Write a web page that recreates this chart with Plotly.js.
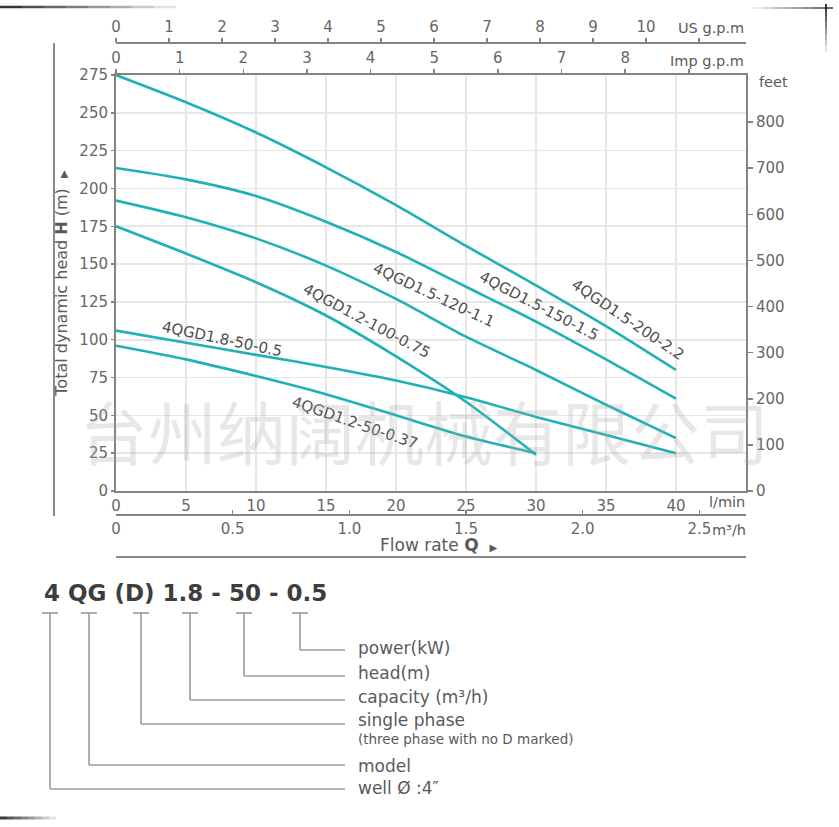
<!DOCTYPE html>
<html>
<head>
<meta charset="utf-8">
<script src="https://cdn.plot.ly/plotly-3.0.1.min.js"></script>
<style>
  html, body { margin: 0; padding: 0; background: #ffffff; }
  #chart { width: 839px; height: 827px; }
</style>
</head>
<body>
<div id="chart"></div>
<script>
// ---------------- data ----------------
const flowLong  = [0, 5, 10, 15, 20, 25, 30, 35, 40];   // l/min
const flowShort = [0, 5, 10, 15, 20, 25, 30];            // l/min

const head_15_200_22  = [275, 257, 237, 214, 189, 162, 136, 109, 80];
const head_15_150_15  = [213.5, 206, 195, 178, 158, 135, 112, 87, 61];
const head_15_120_11  = [192, 181, 167, 149, 127, 102, 80, 57, 35];
const head_12_100_075 = [175, 157, 138, 116, 89, 59, 24];
const head_18_50_05   = [106, 98, 90, 82, 73, 62, 49, 37, 25];
const head_12_50_037  = [96, 87, 76, 64, 50, 36, 25];

const modelNames = ['4QGD1.5-200-2.2', '4QGD1.5-150-1.5', '4QGD1.5-120-1.1',
                    '4QGD1.2-100-0.75', '4QGD1.8-50-0.5', '4QGD1.2-50-0.37'];

const lminTicks = [0, 5, 10, 15, 20, 25, 30, 35, 40];
const headTicks = [0, 25, 50, 75, 100, 125, 150, 175, 200, 225, 250, 275];
const feetTicks = [0, 100, 200, 300, 400, 500, 600, 700, 800];
const usTicks   = [0, 1, 2, 3, 4, 5, 6, 7, 8, 9, 10, 11];
const usText    = ['0','1','2','3','4','5','6','7','8','9','10',''];
const impTicks  = [0, 1, 2, 3, 4, 5, 6, 7, 8, 9];
const impText   = ['0','1','2','3','4','5','6','7','8',''];
const m3hTicks  = [0, 0.5, 1.0, 1.5, 2.0, 2.5];
const m3hText   = ['0','0.5','1.0','1.5','2.0','2.5'];

const codeParts = ['power(kW)', 'head(m)', 'capacity (m³/h)', 'single phase', 'model', 'well Ø :4″'];
const watermark = '台州纳阔机械有限公司';

// unit conversions
const L_PER_USGAL = 3.78541, L_PER_IMPGAL = 4.54609, M_PER_FT = 0.3048;
const xMax = 45, hMax = 275;

// ---------------- styling ----------------
const FONT = 'DejaVu Sans';
const TXT = '#5a5a5a';
const AX = '#838383';
const CURVE = '#1fb1b5';

// pixel helpers for decorations (layout only)
const L = 116, R = 746, T = 43, B = 557;
const px2x = p => (p - L) / (R - L);
const py2y = p => (B - p) / (B - T);

const names = modelNames;
const curves = [
  [flowLong, head_15_200_22],
  [flowLong, head_15_150_15],
  [flowLong, head_15_120_11],
  [flowShort, head_12_100_075],
  [flowLong, head_18_50_05],
  [flowShort, head_12_50_037]
];

const traces = curves.map((c, i) => ({
  type: 'scatter', mode: 'lines', x: c[0], y: c[1], name: names[i],
  xaxis: 'x', yaxis: 'y',
  line: {color: CURVE, width: 2.6, shape: 'spline', smoothing: 0.7},
  hoverinfo: 'x+y+name', showlegend: false
}));
// register secondary axes
traces.push({type:'scatter', mode:'none', x:[0], y:[0], xaxis:'x2', yaxis:'y', showlegend:false, hoverinfo:'skip'});
traces.push({type:'scatter', mode:'none', x:[0], y:[0], xaxis:'x3', yaxis:'y', showlegend:false, hoverinfo:'skip'});
traces.push({type:'scatter', mode:'none', x:[0], y:[0], xaxis:'x4', yaxis:'y', showlegend:false, hoverinfo:'skip'});
traces.push({type:'scatter', mode:'none', x:[0], y:[0], xaxis:'x', yaxis:'y2', showlegend:false, hoverinfo:'skip'});

const tickFont = {family: FONT, size: 15, color: '#666666'};
const yDom = [py2y(491), py2y(75)];

const baseX = {
  showline: true, linecolor: AX, linewidth: 2, zeroline: false,
  tickfont: tickFont, tickcolor: AX, fixedrange: true, showgrid: false
};

// curve label placements
const labelPos = [
  {x: 36.6, y: 113,   a: 34},
  {x: 30.2, y: 122,   a: 27.5},
  {x: 22.7, y: 129.5, a: 25},
  {x: 17.9, y: 112.4, a: 28},
  {x: 7.57, y: 100.5, a: 12},
  {x: 17.1, y: 45,    a: 19}
];
const annotations = labelPos.map((p, i) => ({
  xref: 'x', yref: 'y', x: p.x, y: p.y, text: names[i], textangle: p.a,
  showarrow: false, font: {family: FONT, size: 15, color: '#4f4f4f'}
}));

const note = (text, xpx, ypx, anchor, size, extra) => Object.assign({
  xref: 'paper', yref: 'paper', x: px2x(xpx), y: py2y(ypx), text: text,
  xanchor: anchor, yanchor: 'middle', showarrow: false,
  font: {family: FONT, size: size, color: TXT}
}, extra || {});

annotations.push(note('l/min', 747, 502, 'right', 14.5));
annotations.push(note('m³/h', 710, 530, 'left', 14.5));
annotations.push(note('Imp g.p.m', 746, 61, 'right', 14.5));
annotations.push(note('US g.p.m', 746, 28, 'right', 14.5));
annotations.push(note('feet', 757, 82, 'left', 14.5));
annotations.push(note('Flow rate <b>Q</b>  <span style="font-size:10px">▶</span>', 438, 545, 'center', 17));

// watermark
annotations.push({
  xref: 'paper', yref: 'paper', x: px2x(424), y: py2y(430), text: watermark,
  showarrow: false, xanchor: 'center', yanchor: 'middle',
  font: {family: 'Noto Sans CJK SC', size: 69, color: 'rgba(170,170,170,0.28)'}
});

// model code diagram
annotations.push(note('<b>4 QG (D) 1.8 - 50 - 0.5</b>', 42, 593, 'left', 23, {font: {family: FONT, size: 23, color: '#3d3d3d'}}));
const barX = [300, 244, 190, 141, 89, 50];
const endY = [650, 676, 700, 724, 765, 789];
const textY = [648, 673, 697, 720, 766, 788];
codeParts.forEach((t, i) => annotations.push(note(t, 356, textY[i], 'left', 17)));
annotations.push(note('(three phase with no D marked)', 356, 739, 'left', 13.5));

const shapes = [];
const lineShape = (x0, y0, x1, y1, color, width) => ({
  type: 'line', xref: 'paper', yref: 'paper',
  x0: px2x(x0), y0: py2y(y0), x1: px2x(x1), y1: py2y(y1),
  line: {color: color, width: width}
});
// left vertical rule and bottom rule
shapes.push(lineShape(54, 43, 54, 516, '#8a8a8a', 2));
shapes.push(lineShape(116, 557, 746, 557, '#8a8a8a', 2));
// diagram connectors
barX.forEach((bx, i) => {
  shapes.push(lineShape(bx - 8, 613, bx + 8, 613, '#9a9a9a', 1.6));
  shapes.push(lineShape(bx, 613, bx, endY[i], '#9a9a9a', 1.6));
  shapes.push(lineShape(bx, endY[i], 345, endY[i], '#9a9a9a', 1.6));
});
// picture-frame corner accents
for (let k = 0; k < 8; k++) {
  const op = 0.9 - k * 0.11;
  shapes.push(lineShape(k * 22, 7, (k + 1) * 22, 7, 'rgba(30,30,30,' + op.toFixed(2) + ')', 2.5));
  shapes.push(lineShape(826, 4 + k * 6, 826, 4 + (k + 1) * 6, 'rgba(30,30,30,' + op.toFixed(2) + ')', 2));
  shapes.push(lineShape(833 - k * 10, 8, 833 - (k + 1) * 10, 8, 'rgba(30,30,30,' + op.toFixed(2) + ')', 1.5));
  shapes.push(lineShape(k * 7, 818, (k + 1) * 7, 818, 'rgba(40,40,40,' + op.toFixed(2) + ')', 3));
}

const layout = {
  width: 839, height: 827,
  margin: {l: L, r: 839 - R, t: T, b: 827 - B, pad: 0},
  paper_bgcolor: '#ffffff', plot_bgcolor: '#ffffff',
  showlegend: false,
  font: {family: FONT, color: TXT},
  xaxis: Object.assign({}, baseX, {
    domain: [0, 1], range: [0, xMax], anchor: 'y', side: 'bottom',
    tickvals: lminTicks, ticks: '', showgrid: true, gridcolor: '#e7e7e7', gridwidth: 1.6
  }),
  xaxis2: Object.assign({}, baseX, {
    overlaying: 'x', anchor: 'y', side: 'top', range: [0, xMax / L_PER_IMPGAL],
    tickvals: impTicks, ticktext: impText, ticks: 'outside', ticklen: 4, tickwidth: 1.5
  }),
  xaxis3: Object.assign({}, baseX, {
    overlaying: 'x', anchor: 'free', position: 1, side: 'top', range: [0, xMax / L_PER_USGAL],
    tickvals: usTicks, ticktext: usText, ticks: 'outside', ticklen: 4, tickwidth: 1.5
  }),
  xaxis4: Object.assign({}, baseX, {
    overlaying: 'x', anchor: 'free', position: py2y(515), side: 'bottom',
    range: [0, xMax * 60 / 1000],
    tickvals: m3hTicks, ticktext: m3hText, ticks: 'inside', ticklen: 4, tickwidth: 1.5
  }),
  yaxis: {
    domain: yDom, range: [0, hMax], anchor: 'x',
    tickvals: headTicks, ticks: 'outside', ticklen: 3, tickcolor: AX, tickwidth: 1.5,
    showline: true, linecolor: AX, linewidth: 2, zeroline: false,
    showgrid: true, gridcolor: '#e7e7e7', gridwidth: 1.6,
    tickfont: tickFont, fixedrange: true,
    title: {text: 'Total dynamic head <b>H</b> (m)  <span style="font-size:10px">▶</span>',
            font: {family: FONT, size: 16, color: TXT}, standoff: 8}
  },
  yaxis2: {
    overlaying: 'y', side: 'right', anchor: 'x', range: [0, hMax / M_PER_FT],
    tickvals: feetTicks, ticks: 'outside', ticklen: 5, tickcolor: AX, tickwidth: 1.5,
    showline: true, linecolor: AX, linewidth: 2, zeroline: false, showgrid: false,
    tickfont: tickFont, fixedrange: true
  },
  annotations: annotations,
  shapes: shapes
};

Plotly.newPlot('chart', traces, layout, {displayModeBar: false, staticPlot: true});
</script>
</body>
</html>
